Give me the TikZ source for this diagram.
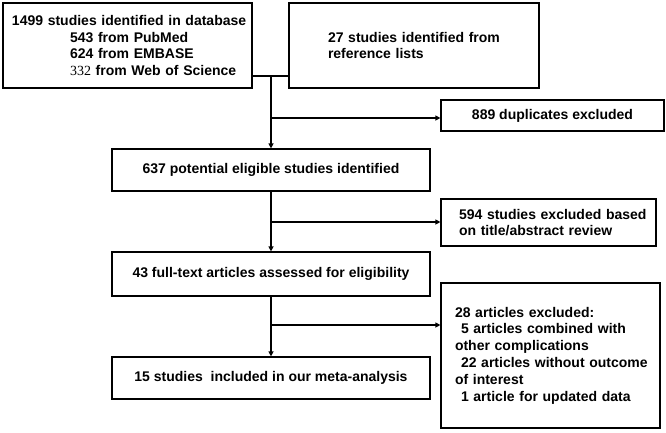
\documentclass[tikz,border=0pt]{standalone}
\usepackage{fontspec}
\setmainfont{Liberation Sans}
\newfontfamily\serifnum{Liberation Serif}
\usetikzlibrary{arrows.meta}
\tikzset{
  box/.style={draw, line width=1.2pt, inner xsep=4pt, inner ysep=0pt, align=left,
    font=\fontsize{14pt}{16.8pt}\selectfont\bfseries},
  cbox/.style={box, align=center},
  conn/.style={line width=1.2pt},
  arr/.style={conn, -{Triangle[length=5pt,width=5pt]}}
}
\begin{document}
\begin{tikzpicture}[x=1pt,y=-1pt]
\useasboundingbox (0,0) rectangle (666,432);
\node[box, text width=241pt, minimum height=85pt] (db) at (127.5,45.5)
  {\hspace*{5pt}1499 studies identified in database\\
   \hspace*{63pt}543 from PubMed\\
   \hspace*{63pt}624 from EMBASE\\
   \hspace*{63pt}{\serifnum\mdseries 332} from Web of Science};
\node[box, text width=242pt, minimum height=85pt] (ref) at (414,45.5)
  {\hspace*{35pt}27 studies identified from\\
   \hspace*{35pt}reference lists};
\node[cbox, minimum width=223pt, minimum height=31pt] (dup) at (552.5,115.5)
  {889 duplicates excluded};
\node[cbox, minimum width=318pt, minimum height=42pt] (pot) at (271,170)
  {637 potential eligible studies identified};
\node[box, text width=207pt, minimum height=47pt] (tit) at (548.5,222.5)
  {\hspace*{14pt}594 studies excluded based\\
   \hspace*{14pt}on title/abstract review};
\node[cbox, minimum width=318pt, minimum height=44pt] (full) at (271,274)
  {43 full-text articles assessed for eligibility};
\node[box, text width=211pt, minimum height=145pt] (exc) at (550.5,355.5)
  {\hspace*{10pt}28 articles excluded:\\
   \hspace*{16pt}5 articles combined with\\
   \hspace*{10pt}other complications\\
   \hspace*{16pt}22 articles without outcome\\
   \hspace*{10pt}of interest\\
   \hspace*{16pt}1 article for updated data};
\node[cbox, minimum width=318pt, minimum height=42pt] (inc) at (271,378)
  {15 studies\ \ included in our meta-analysis};
% connectors
\coordinate (j1) at (271,76);
\coordinate (k1) at (271,118);
\coordinate (k2) at (271,222);
\coordinate (k3) at (271,325);
\draw[conn] (db.east |- j1) -- (ref.west |- j1);
\draw[arr] (j1) -- (pot.north);
\draw[arr] (k1) -- (dup.west |- k1);
\draw[arr] (pot.south) -- (full.north);
\draw[arr] (k2) -- (tit.west |- k2);
\draw[arr] (full.south) -- (inc.north);
\draw[arr] (k3) -- (exc.west |- k3);
\end{tikzpicture}
\end{document}
